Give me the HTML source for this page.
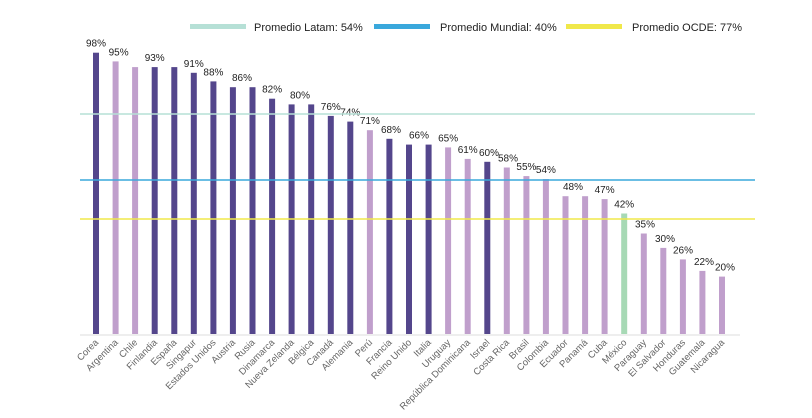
<!DOCTYPE html>
<html><head><meta charset="utf-8"><style>
body{margin:0;background:#fff}
svg{display:block;font-family:"Liberation Sans",sans-serif}
</style></head><body>
<svg width="812" height="418" xmlns="http://www.w3.org/2000/svg">
<g font-size="11" fill="#222">
<rect x="190" y="24" width="56" height="5" fill="#b6e0d6"/><text x="254" y="31">Promedio Latam: 54%</text>
<rect x="374" y="24" width="56" height="5" fill="#3aa8dc"/><text x="440" y="31">Promedio Mundial: 40%</text>
<rect x="566" y="24" width="56" height="5" fill="#f0e84a"/><text x="632" y="31">Promedio OCDE: 77%</text>
</g>
<g>
<rect x="93" y="52.7" width="6" height="281.3" fill="#54468c"/>
<rect x="112.6" y="61.4" width="6" height="272.6" fill="#c09fcc"/>
<rect x="132.1" y="67.1" width="6" height="266.9" fill="#c09fcc"/>
<rect x="151.7" y="67.1" width="6" height="266.9" fill="#54468c"/>
<rect x="171.3" y="67.1" width="6" height="266.9" fill="#54468c"/>
<rect x="190.8" y="72.8" width="6" height="261.2" fill="#54468c"/>
<rect x="210.4" y="81.4" width="6" height="252.6" fill="#54468c"/>
<rect x="229.9" y="87.2" width="6" height="246.8" fill="#54468c"/>
<rect x="249.5" y="87.2" width="6" height="246.8" fill="#54468c"/>
<rect x="269.1" y="98.7" width="6" height="235.3" fill="#54468c"/>
<rect x="288.6" y="104.4" width="6" height="229.6" fill="#54468c"/>
<rect x="308.2" y="104.4" width="6" height="229.6" fill="#54468c"/>
<rect x="327.8" y="115.9" width="6" height="218.1" fill="#54468c"/>
<rect x="347.3" y="121.6" width="6" height="212.4" fill="#54468c"/>
<rect x="366.9" y="130.2" width="6" height="203.8" fill="#c09fcc"/>
<rect x="386.4" y="138.8" width="6" height="195.2" fill="#54468c"/>
<rect x="406" y="144.6" width="6" height="189.4" fill="#54468c"/>
<rect x="425.6" y="144.6" width="6" height="189.4" fill="#54468c"/>
<rect x="445.1" y="147.4" width="6" height="186.6" fill="#c09fcc"/>
<rect x="464.7" y="158.9" width="6" height="175.1" fill="#c09fcc"/>
<rect x="484.3" y="161.8" width="6" height="172.2" fill="#54468c"/>
<rect x="503.8" y="167.5" width="6" height="166.5" fill="#c09fcc"/>
<rect x="523.4" y="176.1" width="6" height="157.9" fill="#c09fcc"/>
<rect x="542.9" y="179" width="6" height="155" fill="#c09fcc"/>
<rect x="562.5" y="196.2" width="6" height="137.8" fill="#c09fcc"/>
<rect x="582.1" y="196.2" width="6" height="137.8" fill="#c09fcc"/>
<rect x="601.6" y="199.1" width="6" height="134.9" fill="#c09fcc"/>
<rect x="621.2" y="213.5" width="6" height="120.5" fill="#a7d9b5"/>
<rect x="640.8" y="233.5" width="6" height="100.5" fill="#c09fcc"/>
<rect x="660.3" y="247.9" width="6" height="86.1" fill="#c09fcc"/>
<rect x="679.9" y="259.4" width="6" height="74.6" fill="#c09fcc"/>
<rect x="699.4" y="270.9" width="6" height="63.1" fill="#c09fcc"/>
<rect x="719" y="276.6" width="6" height="57.4" fill="#c09fcc"/>
</g>
<g font-size="10" fill="#222" text-anchor="middle">
<text x="96" y="46.7">98%</text>
<text x="118.6" y="55.4">95%</text>
<text x="154.7" y="61.1">93%</text>
<text x="193.8" y="66.8">91%</text>
<text x="213.4" y="75.4">88%</text>
<text x="242" y="81.2">86%</text>
<text x="272.1" y="92.7">82%</text>
<text x="300" y="98.4">80%</text>
<text x="330.8" y="109.9">76%</text>
<text x="350.3" y="115.6">74%</text>
<text x="369.9" y="124.2">71%</text>
<text x="391" y="132.8">68%</text>
<text x="419" y="138.6">66%</text>
<text x="448.1" y="141.4">65%</text>
<text x="467.7" y="152.9">61%</text>
<text x="489" y="155.8">60%</text>
<text x="508" y="161.5">58%</text>
<text x="526.4" y="170.1">55%</text>
<text x="545.9" y="173">54%</text>
<text x="573" y="190.2">48%</text>
<text x="604.6" y="193.1">47%</text>
<text x="624.2" y="207.5">42%</text>
<text x="645" y="227.5">35%</text>
<text x="665" y="241.9">30%</text>
<text x="683" y="253.4">26%</text>
<text x="704" y="264.9">22%</text>
<text x="725" y="270.6">20%</text>
</g>
<line x1="80" y1="114" x2="755" y2="114" stroke="#b6e0d6" stroke-width="1.5"/>
<line x1="80" y1="180" x2="755" y2="180" stroke="#3aa8dc" stroke-width="1.5"/>
<line x1="80" y1="219" x2="755" y2="219" stroke="#f0e84a" stroke-width="1.5"/>
<line x1="80" y1="335" x2="740" y2="335" stroke="#ddd" stroke-width="1"/>
<g font-size="9.5" fill="#666" text-anchor="end">
<text transform="translate(99,343) rotate(-45)">Corea</text>
<text transform="translate(118.6,343) rotate(-45)">Argentina</text>
<text transform="translate(138.1,343) rotate(-45)">Chile</text>
<text transform="translate(157.7,343) rotate(-45)">Finlandia</text>
<text transform="translate(177.3,343) rotate(-45)">España</text>
<text transform="translate(196.8,343) rotate(-45)">Singapur</text>
<text transform="translate(216.4,343) rotate(-45)">Estados Unidos</text>
<text transform="translate(235.9,343) rotate(-45)">Austria</text>
<text transform="translate(255.5,343) rotate(-45)">Rusia</text>
<text transform="translate(275.1,343) rotate(-45)">Dinamarca</text>
<text transform="translate(294.6,343) rotate(-45)">Nueva Zelanda</text>
<text transform="translate(314.2,343) rotate(-45)">Bélgica</text>
<text transform="translate(333.8,343) rotate(-45)">Canadá</text>
<text transform="translate(353.3,343) rotate(-45)">Alemania</text>
<text transform="translate(372.9,343) rotate(-45)">Perú</text>
<text transform="translate(392.4,343) rotate(-45)">Francia</text>
<text transform="translate(412,343) rotate(-45)">Reino Unido</text>
<text transform="translate(431.6,343) rotate(-45)">Italia</text>
<text transform="translate(451.1,343) rotate(-45)">Uruguay</text>
<text transform="translate(470.7,343) rotate(-45)">República Dominicana</text>
<text transform="translate(490.3,343) rotate(-45)">Israel</text>
<text transform="translate(509.8,343) rotate(-45)">Costa Rica</text>
<text transform="translate(529.4,343) rotate(-45)">Brasil</text>
<text transform="translate(548.9,343) rotate(-45)">Colombia</text>
<text transform="translate(568.5,343) rotate(-45)">Ecuador</text>
<text transform="translate(588.1,343) rotate(-45)">Panamá</text>
<text transform="translate(607.6,343) rotate(-45)">Cuba</text>
<text transform="translate(627.2,343) rotate(-45)">México</text>
<text transform="translate(646.8,343) rotate(-45)">Paraguay</text>
<text transform="translate(666.3,343) rotate(-45)">El Salvador</text>
<text transform="translate(685.9,343) rotate(-45)">Honduras</text>
<text transform="translate(705.4,343) rotate(-45)">Guatemala</text>
<text transform="translate(725,343) rotate(-45)">Nicaragua</text>
</g>
</svg>
</body></html>
